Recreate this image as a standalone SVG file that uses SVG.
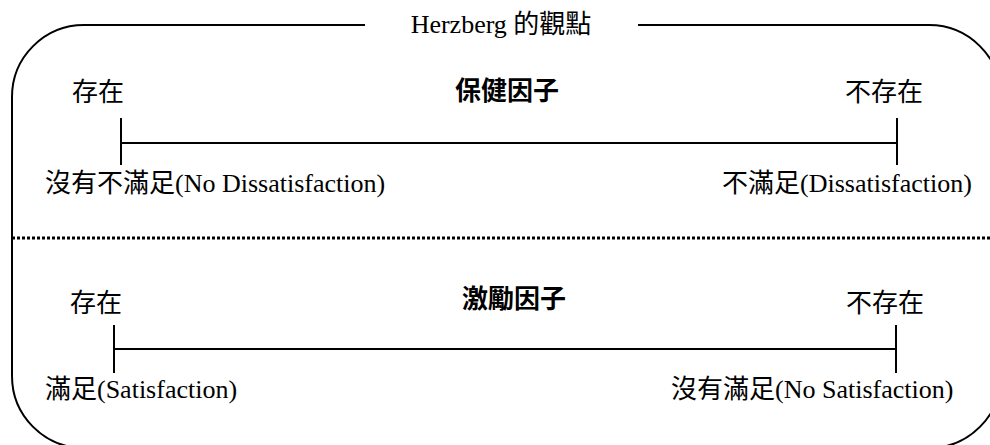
<svg xmlns="http://www.w3.org/2000/svg" width="990" height="445" viewBox="0 0 990 445">
<style>
.frame{fill:none;stroke:#000;stroke-width:2}
.ln{fill:none;stroke:#000;stroke-width:2}
.dot{fill:none;stroke:#000;stroke-width:3;stroke-dasharray:3 2}
.t{font-family:"Liberation Serif","Noto Sans CJK TC",serif;font-size:26px;fill:#000}
.h{font-family:"Noto Sans CJK TC","Noto Sans CJK SC",sans-serif;font-size:26px;font-weight:bold;fill:#000}
</style>
<rect width="990" height="445" fill="#fff"/>
<g id="frame">
<path class="frame" d="M365,25 H84 A72,72 0 0 0 12,97 V376 A72,72 0 0 0 84,448 H929 A72,72 0 0 0 1001,376 V97 A72,72 0 0 0 929,25 H638"/>
<text class="t" x="501" y="33" text-anchor="middle">Herzberg 的觀點</text>
</g>
<g id="divider">
<line class="dot" x1="12" y1="238" x2="990" y2="238"/>
</g>
<g id="hygiene">
<text class="h" x="507" y="100" text-anchor="middle">保健因子</text>
<text class="t" x="72" y="101">存在</text>
<text class="t" x="845" y="101">不存在</text>
<text class="t" x="45" y="192">沒有不滿足(No Dissatisfaction)</text>
<text class="t" x="722" y="192">不滿足(Dissatisfaction)</text>
</g>
<g id="motivator">
<text class="h" x="514" y="308" text-anchor="middle">激勵因子</text>
<text class="t" x="70" y="312">存在</text>
<text class="t" x="846" y="312">不存在</text>
<text class="t" x="45" y="398">滿足(Satisfaction)</text>
<text class="t" x="671" y="398">沒有滿足(No Satisfaction)</text>
</g>
<g id="connectors">
<line class="ln" x1="121" y1="143" x2="897" y2="143"/>
<line class="ln" x1="121" y1="118" x2="121" y2="165"/>
<line class="ln" x1="897" y1="118" x2="897" y2="165"/>
<line class="ln" x1="114" y1="349" x2="896" y2="349"/>
<line class="ln" x1="114" y1="325" x2="114" y2="373"/>
<line class="ln" x1="896" y1="325" x2="896" y2="373"/>
</g>
</svg>
